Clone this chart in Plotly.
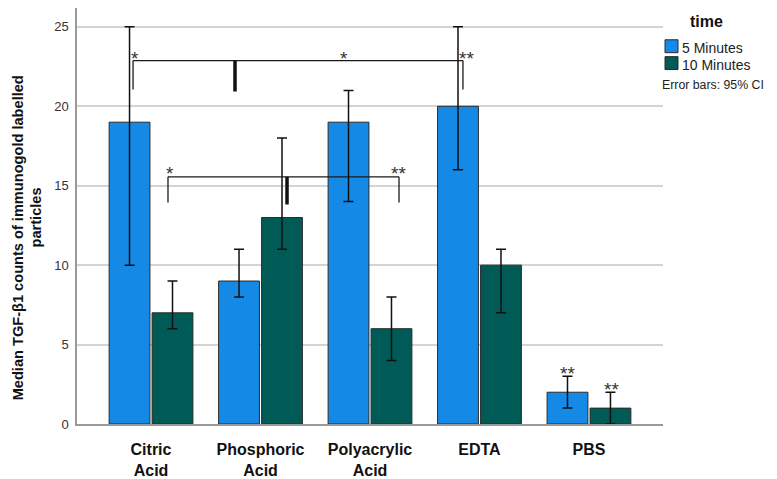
import plotly.graph_objects as go

categories = ["Citric<br>Acid", "Phosphoric<br>Acid", "Polyacrylic<br>Acid", "EDTA", "PBS"]
series_names = ["5 Minutes", "10 Minutes"]
median_5 = [19, 9, 19, 20, 2]
median_10 = [7, 13, 6, 10, 1]
ci_low_5 = [10, 8, 14, 16, 1]
ci_high_5 = [25, 11, 21, 25, 3]
ci_low_10 = [6, 11, 4, 7, 0]
ci_high_10 = [9, 18, 8, 11, 2]
y_ticks = [0, 5, 10, 15, 20, 25]

# significance brackets (x in category units, y in counts)
bracket_left = [-0.164, 0.155]
bracket_right = [2.849, 2.265]
bracket_top = [22.875, 15.56]
bracket_bottom = [21.05, 13.94]
bracket_mark = [0.767, 1.242]
star_text = ["*", "*", "**", "*", "**", "**", "**"]
star_x = [-0.15, 1.763, 2.877, 0.174, 2.256, 3.80, 4.21]
star_y = [23.44, 23.44, 23.44, 16.19, 16.19, 3.63, 2.63]

BLUE = "#1589e6"
TEAL = "#005a55"
FONT = "Liberation Sans, Arial, sans-serif"

# page has an 8px body margin; figure is sized to fit the window
OFF = 8
W, H = 777 - OFF, 479 - OFF
PL, PR, PT, PB = 77, 663, 8, 427  # plot area in screen pixels


def px(xs):
    return (xs - PL) / (PR - PL)


def py(ys):
    return (PB - ys) / (PB - PT)


xs = list(range(len(categories)))

fig = go.Figure()
for name, vals, lo, hi, col in [
    (series_names[0], median_5, ci_low_5, ci_high_5, BLUE),
    (series_names[1], median_10, ci_low_10, ci_high_10, TEAL),
]:
    fig.add_trace(go.Bar(
        x=xs, y=vals, name=name,
        marker=dict(color=col, line=dict(color="#2b2b2b", width=1)),
        error_y=dict(type="data", symmetric=False,
                     array=[h - v for h, v in zip(hi, vals)],
                     arrayminus=[v - l for v, l in zip(vals, lo)],
                     color="#111111", thickness=1.5, width=5),
        showlegend=False,
    ))

shapes = []
for l, r, t, b, m in zip(bracket_left, bracket_right, bracket_top, bracket_bottom, bracket_mark):
    ln = dict(color="#1a1a1a", width=1.3)
    shapes.append(dict(type="line", xref="x", yref="y", x0=l, x1=r, y0=t, y1=t, line=ln))
    shapes.append(dict(type="line", xref="x", yref="y", x0=l, x1=l, y0=t, y1=b, line=ln))
    shapes.append(dict(type="line", xref="x", yref="y", x0=r, x1=r, y0=t, y1=b, line=ln))
    shapes.append(dict(type="line", xref="x", yref="y", x0=m, x1=m, y0=t, y1=b - 0.12,
                       line=dict(color="#111111", width=3.5)))

# legend swatches (manual, SPSS style)
for i, col in enumerate([BLUE, TEAL]):
    y0 = 40 + i * 17
    shapes.append(dict(type="rect", xref="paper", yref="paper",
                       x0=px(665), x1=px(678), y0=py(y0 + 13), y1=py(y0),
                       fillcolor=col, line=dict(color="#2b2b2b", width=1)))

annotations = []
for t, x, y in zip(star_text, star_x, star_y):
    annotations.append(dict(text=t, x=x, y=y - 0.45, xref="x", yref="y", showarrow=False,
                            font=dict(size=19, color="#333333", family=FONT)))

annotations.append(dict(text="<b>time</b>", x=px(706), y=py(22),
                        xref="paper", yref="paper", showarrow=False, xanchor="center", yanchor="middle",
                        font=dict(size=16, color="#111111", family=FONT)))
for i, nm in enumerate(series_names):
    annotations.append(dict(text=nm, x=px(680), y=py(48 + i * 17),
                            xref="paper", yref="paper", showarrow=False, xanchor="left", yanchor="middle",
                            font=dict(size=14, color="#222222", family=FONT)))
annotations.append(dict(text="Error bars: 95% CI", x=px(660), y=py(86),
                        xref="paper", yref="paper", showarrow=False, xanchor="left", yanchor="middle",
                        font=dict(size=12.3, color="#222222", family=FONT)))

annotations.append(dict(text="<b>Median TGF-β1 counts of immunogold labelled</b>",
                        x=px(18), y=py(240), xref="paper", yref="paper",
                        textangle=-90, showarrow=False, xanchor="center", yanchor="middle",
                        font=dict(size=14.6, color="#111111", family=FONT)))
annotations.append(dict(text="<b>particles</b>",
                        x=px(36), y=py(219), xref="paper", yref="paper",
                        textangle=-90, showarrow=False, xanchor="center", yanchor="middle",
                        font=dict(size=14.6, color="#111111", family=FONT)))

fig.update_layout(
    width=W, height=H,
    margin=dict(l=PL - OFF, r=W - (PR - OFF), t=PT - OFF, b=H - (PB - OFF), pad=0),
    paper_bgcolor="white", plot_bgcolor="white",
    barmode="group", bargap=0.215, bargroupgap=0.05,
    shapes=shapes, annotations=annotations,
    font=dict(family=FONT),
)
fig.update_xaxes(
    range=[-0.676, 4.676], tickvals=xs, ticktext=["<b>" + c + "</b>" for c in categories],
    tickfont=dict(size=16, color="#111111", family=FONT),
    showline=True, linecolor="#999999", linewidth=1.5, showgrid=False, ticks="",
    ticklabelstandoff=10, zeroline=False,
)
fig.update_yaxes(
    range=[0, (PB - PT) / 16], tickvals=y_ticks, tickfont=dict(size=13, color="#333333", family=FONT),
    showline=True, linecolor="#999999", linewidth=1.5,
    showgrid=True, gridcolor="#d4d4d4", gridwidth=1.5, zeroline=False, ticks="",
    ticklabelstandoff=4,
)

fig.write_html("out.html")
